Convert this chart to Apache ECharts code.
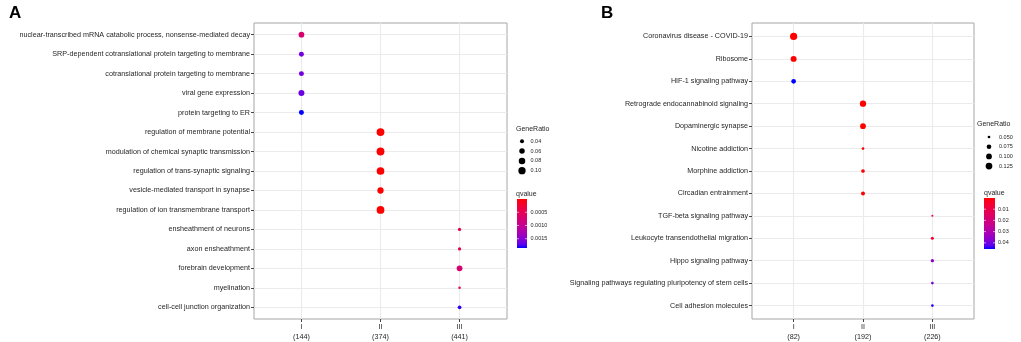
<!DOCTYPE html>
<html>
<head>
<meta charset="utf-8">
<script src="https://cdn.jsdelivr.net/npm/echarts@6/dist/echarts.min.js"></script>
<style>html,body{margin:0;padding:0;background:#fff;}#c{width:1021px;height:342px;}</style>
</head>
<body>
<div id="c"></div>
<script>
// ---------- Panel A data ----------
const catsA = [
  'nuclear-transcribed mRNA catabolic process, nonsense-mediated decay',
  'SRP-dependent cotranslational protein targeting to membrane',
  'cotranslational protein targeting to membrane',
  'viral gene expression',
  'protein targeting to ER',
  'regulation of membrane potential',
  'modulation of chemical synaptic transmission',
  'regulation of trans-synaptic signaling',
  'vesicle-mediated transport in synapse',
  'regulation of ion transmembrane transport',
  'ensheathment of neurons',
  'axon ensheathment',
  'forebrain development',
  'myelination',
  'cell-cell junction organization'
];
const clusterA = [1,1,1,1,1,2,2,2,2,2,3,3,3,3,3];
const ratioA = [0.064,0.052,0.052,0.070,0.052,0.115,0.115,0.110,0.076,0.113,0.034,0.034,0.064,0.0305,0.037];
const qA = [0.00072,0.00162,0.00162,0.00165,0.00185,0.000001,0.000001,0.000002,0.000003,0.000002,0.00042,0.00042,0.00072,0.0005,0.00178];
const xLabA = ['I\n(144)','II\n(374)','III\n(441)'];
const sizeBreaksA = [0.04,0.06,0.08,0.10];
const sizeLabA = ['0.04','0.06','0.08','0.10'];
const qBreaksA = [0.0005,0.0010,0.0015];
const qLabA = ['0.0005','0.0010','0.0015'];

// ---------- Panel B data ----------
const catsB = [
  'Coronavirus disease - COVID-19',
  'Ribosome',
  'HIF-1 signaling pathway',
  'Retrograde endocannabinoid signaling',
  'Dopaminergic synapse',
  'Nicotine addiction',
  'Morphine addiction',
  'Circadian entrainment',
  'TGF-beta signaling pathway',
  'Leukocyte transendothelial migration',
  'Hippo signaling pathway',
  'Signaling pathways regulating pluripotency of stem cells',
  'Cell adhesion molecules'
];
const clusterB = [1,1,1,2,2,2,2,2,3,3,3,3,3];
const ratioB = [0.140,0.105,0.076,0.113,0.098,0.050,0.060,0.064,0.046,0.0525,0.0555,0.050,0.050];
const qB = [0.00001,0.00002,0.0455,0.00003,0.00005,0.0004,0.0003,0.0004,0.008,0.006,0.037,0.039,0.044];
const xLabB = ['I\n(82)','II\n(192)','III\n(226)'];
const sizeBreaksB = [0.050,0.075,0.100,0.125];
const sizeLabB = ['0.050','0.075','0.100','0.125'];
const qBreaksB = [0.01,0.02,0.03,0.04];
const qLabB = ['0.01','0.02','0.03','0.04'];

// ---------- styling helpers ----------
const sizeA = v => 2 + 5.85 * Math.sqrt(Math.max(0, (v - 0.03) / 0.085));
const sizeB = v => 1.37 + 5.66 * Math.sqrt(Math.max(0, (v - 0.045) / 0.09));

// red -> blue gradient interpolated in CIE Lab (like ggplot2)
function lin(c){c/=255;return c<=0.04045?c/12.92:Math.pow((c+0.055)/1.055,2.4);}
function unlin(c){c=c<=0.0031308?12.92*c:1.055*Math.pow(c,1/2.4)-0.055;return Math.round(Math.min(1,Math.max(0,c))*255);}
function rgb2lab(r,g,b){
  r=lin(r);g=lin(g);b=lin(b);
  let X=(0.4124*r+0.3576*g+0.1805*b)/0.95047, Y=0.2126*r+0.7152*g+0.0722*b, Z=(0.0193*r+0.1192*g+0.9505*b)/1.08883;
  const f=t=>t>0.008856?Math.cbrt(t):7.787*t+16/116;
  const fx=f(X),fy=f(Y),fz=f(Z);
  return [116*fy-16,500*(fx-fy),200*(fy-fz)];
}
function lab2rgb(L,a,b){
  const fy=(L+16)/116, fx=fy+a/500, fz=fy-b/200;
  const fi=t=>t*t*t>0.008856?t*t*t:(t-16/116)/7.787;
  const X=fi(fx)*0.95047, Y=fi(fy), Z=fi(fz)*1.08883;
  const r=3.2406*X-1.5372*Y-0.4986*Z, g=-0.9689*X+1.8758*Y+0.0415*Z, bb=0.0557*X-0.2040*Y+1.0570*Z;
  const h=n=>n.toString(16).padStart(2,'0');
  return '#'+h(unlin(r))+h(unlin(g))+h(unlin(bb));
}
const labR=rgb2lab(255,0,0), labB=rgb2lab(0,0,255);
const stops=[];
for(let i=0;i<=16;i++){const t=i/16;stops.push(lab2rgb(labR[0]+(labB[0]-labR[0])*t,labR[1]+(labB[1]-labR[1])*t,labR[2]+(labB[2]-labR[2])*t));}

const qminA=Math.min(...qA), qmaxA=Math.max(...qA);
const qminB=Math.min(...qB), qmaxB=Math.max(...qB);

const FONT='"Liberation Sans", Arial, Helvetica, sans-serif';
const TXT='#1f1f1f';
const GRIDC='#ebebeb';

const panels=[
  {cats:catsA, cl:clusterA, r:ratioA, q:qA, xl:xLabA, size:sizeA, left:254, width:253},
  {cats:catsB, cl:clusterB, r:ratioB, q:qB, xl:xLabB, size:sizeB, left:752, width:222}
];
const TOP=23, HEIGHT=297;

const grids=[], xAxes=[], yAxes=[], series=[], vms=[];
panels.forEach((p,i)=>{
  const n=p.cats.length;
  grids.push({left:p.left, top:TOP, width:p.width, height:HEIGHT, show:true, borderColor:'#a6a6a6', borderWidth:1, backgroundColor:'#fff'});
  const ys=[]; for(let k=1;k<=n;k++) ys.push(k);
  xAxes.push({type:'value', gridIndex:i, min:0.4, max:3.6,
    axisLine:{show:false},
    axisTick:{show:true, customValues:[1,2,3], length:3, lineStyle:{color:'#444', width:1}},
    axisLabel:{customValues:[1,2,3], formatter:v=>p.xl[Math.round(v)-1], fontSize:7.2, lineHeight:10, color:TXT, margin:3, fontFamily:FONT},
    splitLine:{show:true, lineStyle:{color:GRIDC, width:1.1}}
  });
  yAxes.push({type:'value', gridIndex:i, min:0.4, max:n+0.6, inverse:true,
    axisLine:{show:false},
    axisTick:{show:true, customValues:ys, length:3, lineStyle:{color:'#444', width:1}},
    axisLabel:{customValues:ys, formatter:v=>p.cats[Math.round(v)-1], fontSize:7.2, color:TXT, margin:4, fontFamily:FONT},
    splitLine:{show:true, lineStyle:{color:GRIDC, width:1.1}}
  });
  const data=p.cats.map((c,k)=>[p.cl[k], k+1, p.r[k], p.q[k]]);
  series.push({type:'scatter', xAxisIndex:i, yAxisIndex:i, data:data,
    symbolSize:val=>p.size(val[2]), itemStyle:{opacity:1}, z:5});
  vms.push({type:'continuous', show:false, seriesIndex:i, dimension:3,
    min:i===0?qminA:qminB, max:i===0?qmaxA:qmaxB, inRange:{color:stops}});
});

// ---------- legends (graphic) ----------
const graphic=[];
function text(x,y,s,size,opts){
  graphic.push(Object.assign({type:'text', x:x, y:y, style:{text:s, fontSize:size, fill:TXT, fontFamily:FONT, textVerticalAlign:'middle', verticalAlign:'middle'}}, opts||{}));
}
graphic.push({type:'text', left:9, top:5, style:{text:'A', fontSize:17, fontWeight:'bold', fill:'#000', fontFamily:FONT}});
graphic.push({type:'text', left:601, top:5, style:{text:'B', fontSize:17, fontWeight:'bold', fill:'#000', fontFamily:FONT}});

function legend(cfg){
  text(cfg.tx, cfg.ty, 'GeneRatio', 7);
  cfg.breaks.forEach((b,k)=>{
    const y=cfg.dy0+k*cfg.dstep;
    const d=cfg.size(b);
    graphic.push({type:'circle', shape:{cx:cfg.dx, cy:y, r:d/2}, style:{fill:'#000'}});
    text(cfg.lx, y, cfg.labs[k], 5.5);
  });
  text(cfg.qx, cfg.qy, 'qvalue', 7);
  const gs=stops.map((c,k)=>({offset:k/(stops.length-1), color:c}));
  graphic.push({type:'rect', shape:{x:cfg.bx, y:cfg.by, width:cfg.bw, height:cfg.bh},
    style:{fill:{type:'linear', x:0, y:0, x2:0, y2:1, colorStops:gs}}});
  cfg.qbreaks.forEach((b,k)=>{
    const y=cfg.by+(b-cfg.qmin)/(cfg.qmax-cfg.qmin)*cfg.bh;
    graphic.push({type:'line', shape:{x1:cfg.bx, y1:y, x2:cfg.bx+2, y2:y}, style:{stroke:'#fff', lineWidth:0.6}});
    graphic.push({type:'line', shape:{x1:cfg.bx+cfg.bw-2, y1:y, x2:cfg.bx+cfg.bw, y2:y}, style:{stroke:'#fff', lineWidth:0.6}});
    text(cfg.blx, y, cfg.qlabs[k], 5.5);
  });
}
legend({tx:516, ty:129, dx:522, dy0:141.3, dstep:9.8, size:sizeA, breaks:sizeBreaksA, labs:sizeLabA, lx:530.5,
  qx:516, qy:194, bx:517, by:199, bw:10, bh:49, qmin:qminA, qmax:qmaxA, qbreaks:qBreaksA, qlabs:qLabA, blx:530.5});
legend({tx:977, ty:124, dx:989, dy0:137, dstep:9.7, size:sizeB, breaks:sizeBreaksB, labs:sizeLabB, lx:999,
  qx:984, qy:193, bx:984, by:198, bw:11, bh:51, qmin:qminB, qmax:qmaxB, qbreaks:qBreaksB, qlabs:qLabB, blx:998});

const chart=echarts.init(document.getElementById('c'), null, {renderer:'canvas'});
chart.setOption({animation:false, backgroundColor:'#fff', grid:grids, xAxis:xAxes, yAxis:yAxes, series:series, visualMap:vms, graphic:graphic});
</script>
</body>
</html>
